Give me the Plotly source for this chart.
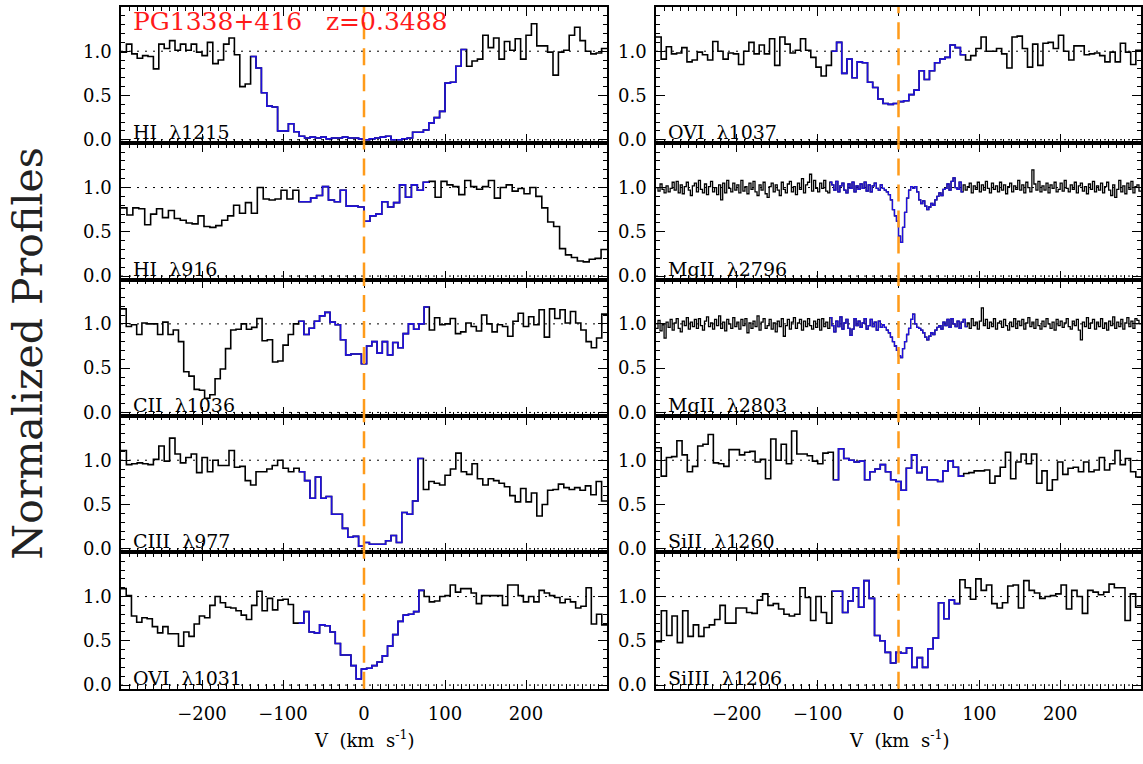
import numpy as np
import plotly.graph_objects as go

FONT = "DejaVu Serif"
INK = "#000000"
BLUE = "#2010dd"
ORANGE = "#ff9b1a"
RED = "#ff1a1a"

W, H = 1143, 764

# velocity span shared by every panel (km/s)
V_MIN, V_MAX = -300.0, 300.0

# ---------------------------------------------------------------------------
# Normalised flux of each transition, one value per pixel, pixels spread
# evenly across V_MIN..V_MAX
# ---------------------------------------------------------------------------
hi1215 = [
    0.99, 1.08, 0.97, 0.92, 0.95, 0.94, 0.80, 1.08, 1.03, 1.12,
    1.01, 1.08, 1.01, 1.08, 0.99, 0.95, 1.10, 0.86, 0.90, 1.08,
    1.15, 0.96, 0.60, 0.63, 0.94, 0.81, 0.53, 0.38, 0.37, 0.10,
    0.10, 0.18, 0.09, 0.04, 0.02, 0.03, 0.02, 0.03, 0.01, 0.02,
    0.02, 0.03, 0.02, 0.02, 0.01, 0.00, 0.01, 0.02, 0.03, 0.04,
    0.00, 0.00, 0.01, 0.02, 0.085, 0.085, 0.11, 0.19, 0.25, 0.32,
    0.64, 0.65, 0.83, 1.02, 0.83, 0.89, 0.91, 1.18, 1.04, 1.15,
    0.91, 1.11, 1.01, 1.14, 0.91, 1.18, 1.31, 1.06, 1.06, 0.99,
    0.73, 0.99, 1.01, 1.18, 1.27, 1.12, 1.00, 0.97, 0.98, 1.03,
]

hi916 = [
    0.77, 0.69, 0.77, 0.76, 0.58, 0.70, 0.76, 0.66, 0.74, 0.65,
    0.63, 0.60, 0.59, 0.68, 0.56, 0.55, 0.57, 0.63, 0.68, 0.80,
    0.71, 0.83, 0.71, 1.00, 0.87, 0.86, 0.87, 0.97, 0.87, 0.97,
    0.84, 0.84, 0.88, 0.91, 1.01, 0.86, 0.84, 0.97, 0.79, 0.79,
    0.78, 0.62, 0.68, 0.70, 0.84, 0.78, 0.83, 1.03, 0.89, 1.03,
    0.97, 1.06, 1.07, 0.89, 1.07, 1.03, 1.01, 0.92, 1.08, 1.01,
    0.98, 1.01, 1.08, 0.88, 1.00, 1.03, 0.96, 0.99, 0.93, 1.00,
    0.90, 0.77, 0.61, 0.56, 0.31, 0.24, 0.21, 0.17, 0.16, 0.19,
    0.20, 0.30,
]

cii1036 = [
    1.17, 0.97, 0.99, 0.88, 1.01, 1.00, 1.00, 0.88, 1.02, 0.88,
    0.93, 0.80, 0.46, 0.41, 0.26, 0.25, 0.16, 0.20, 0.38, 0.49,
    0.72, 0.93, 0.94, 1.00, 0.94, 0.96, 1.06, 0.81, 0.82, 0.57,
    0.58, 0.76, 0.88, 1.00, 1.03, 0.88, 0.95, 1.03, 1.09, 1.13,
    1.02, 0.99, 0.82, 0.65, 0.66, 0.66, 0.55, 0.75, 0.80, 0.67,
    0.80, 0.65, 0.79, 0.73, 0.89, 1.00, 0.94, 1.00, 1.19, 0.93,
    1.07, 0.99, 1.00, 1.06, 0.89, 0.91, 1.01, 0.97, 0.92, 1.10,
    1.00, 0.91, 0.99, 0.97, 0.86, 1.03, 1.12, 0.97, 1.08, 0.99,
    1.16, 0.85, 1.17, 1.06, 1.16, 1.01, 1.14, 1.01, 0.93, 0.80,
    0.73, 0.84, 1.11,
]

ciii977 = [
    1.11, 0.95, 0.96, 0.97, 0.96, 0.95, 1.01, 1.16, 0.99, 1.25,
    1.07, 0.97, 1.03, 1.07, 0.86, 1.03, 0.87, 1.00, 0.94, 0.94,
    1.11, 0.92, 0.93, 0.77, 0.72, 0.87, 0.87, 0.90, 0.94, 1.00,
    0.91, 0.87, 0.91, 0.87, 0.77, 0.57, 0.81, 0.57, 0.59, 0.39,
    0.39, 0.23, 0.13, 0.14, 0.03, 0.07, 0.05, 0.05, 0.05, 0.09,
    0.15, 0.07, 0.41, 0.39, 0.54, 1.02, 0.67, 0.76, 0.74, 0.72,
    0.83, 0.90, 1.08, 0.87, 0.84, 0.96, 0.79, 0.72, 0.79, 0.77,
    0.74, 0.70, 0.60, 0.53, 0.68, 0.53, 0.63, 0.37, 0.50, 0.66,
    0.67, 0.73, 0.69, 0.67, 0.69, 0.66, 0.71, 0.61, 0.76, 0.54,
]

ovi1031 = [
    1.09, 1.01, 0.78, 0.71, 0.76, 0.75, 0.66, 0.59, 0.66, 0.58,
    0.58, 0.44, 0.60, 0.55, 0.69, 0.78, 0.76, 0.90, 1.00, 0.93,
    0.88, 0.87, 0.84, 0.79, 0.74, 0.90, 1.06, 0.84, 0.98, 0.85,
    0.96, 0.97, 0.91, 0.70, 0.70, 0.83, 0.60, 0.59, 0.68, 0.67,
    0.60, 0.47, 0.34, 0.34, 0.22, 0.07, 0.18, 0.19, 0.22, 0.26,
    0.33, 0.44, 0.57, 0.72, 0.79, 0.80, 0.83, 1.07, 1.00, 0.94,
    0.95, 1.00, 1.01, 1.13, 1.05, 1.09, 1.09, 1.04, 0.92, 1.01,
    1.01, 1.01, 1.01, 0.90, 1.13, 1.13, 1.01, 0.94, 1.00, 0.94,
    1.07, 1.04, 1.01, 0.99, 0.93, 0.97, 0.94, 0.87, 0.89, 1.10,
    0.69, 0.80, 0.68,
]

ovi1037 = [
    1.16, 0.91, 1.05, 0.97, 0.98, 1.04, 0.88, 0.90, 0.99, 0.96,
    0.90, 1.11, 1.00, 0.91, 0.98, 0.97, 0.85, 1.00, 1.10, 0.97,
    1.07, 0.97, 1.14, 0.84, 1.16, 1.08, 0.98, 1.01, 1.14, 1.01,
    0.93, 0.82, 0.72, 0.84, 1.00, 1.10, 0.75, 0.91, 0.70, 0.88,
    0.87, 0.65, 0.59, 0.46, 0.41, 0.40, 0.41, 0.43, 0.44, 0.51,
    0.56, 0.78, 0.68, 0.78, 0.87, 0.91, 0.93, 1.07, 1.04, 0.96,
    0.90, 0.95, 1.03, 1.16, 1.00, 1.00, 1.03, 0.97, 0.81, 1.16,
    1.17, 1.03, 0.82, 1.08, 0.84, 1.09, 1.10, 1.03, 1.18, 1.00,
    0.90, 1.06, 1.06, 0.96, 0.97, 0.98, 0.95, 0.88, 0.99, 0.88,
    1.09, 0.99, 0.85, 1.01,
]

mgii2796 = [
    1.00, 0.96, 1.04, 0.98, 0.94, 1.02, 0.95, 0.99, 1.06, 0.97,
    1.07, 0.94, 1.03, 0.93, 1.01, 1.06, 0.97, 0.91, 1.02, 1.05,
    0.95, 1.08, 0.98, 0.94, 1.04, 0.92, 1.01, 1.07, 0.95, 1.00,
    0.92, 1.03, 0.86, 1.05, 0.94, 1.08, 0.99, 0.95, 1.05, 0.97,
    1.03, 0.94, 1.08, 0.96, 1.01, 0.93, 1.05, 0.98, 1.07, 0.95,
    0.91, 1.03, 0.97, 1.06, 0.93, 0.89, 1.01, 1.05, 0.95, 1.03,
    0.97, 0.91, 1.06, 0.98, 0.94, 1.04, 1.07, 0.95, 1.01, 0.92,
    1.05, 0.98, 1.10, 0.94, 1.03, 1.06, 1.15, 0.96, 1.08, 0.99,
    0.95, 1.05, 0.99, 1.08, 0.96, 0.94, 1.06, 1.03, 0.97, 1.07,
    0.95, 1.02, 1.05, 0.97, 0.94, 1.04, 0.99, 1.06, 0.95, 1.02,
    0.98, 1.04, 0.99, 1.06, 0.96, 1.03, 0.95, 1.02, 1.05, 0.99,
    0.97, 1.03, 0.99, 0.97, 0.95, 0.92, 0.86, 0.75, 0.68, 0.62,
    0.45, 0.38, 0.55, 0.72, 0.88, 0.97, 1.01, 0.99, 1.01, 0.95,
    0.86, 0.82, 0.85, 0.79, 0.75, 0.78, 0.82, 0.80, 0.86, 0.90,
    0.94, 0.91, 0.98, 0.99, 1.04, 0.97, 1.07, 1.11, 1.00, 0.98,
    1.06, 0.95, 1.03, 0.97, 1.01, 1.05, 0.94, 1.02, 0.98, 1.06,
    0.95, 1.03, 0.97, 1.07, 0.99, 0.94, 1.05, 0.98, 1.02, 0.95,
    1.06, 0.97, 1.03, 0.93, 1.01, 1.05, 0.95, 1.02, 0.98, 1.08,
    0.97, 1.03, 0.94, 1.06, 1.00, 0.95, 1.20, 1.04, 0.97, 1.07,
    0.95, 1.02, 0.97, 1.05, 0.94, 1.03, 0.99, 1.06, 0.95, 0.98,
    1.05, 0.96, 1.08, 0.99, 0.95, 1.03, 0.98, 1.06, 0.94, 1.02,
    1.05, 0.96, 1.01, 0.93, 1.04, 0.98, 1.07, 0.95, 1.02, 0.97,
    1.05, 0.94, 1.01, 1.06, 0.97, 0.91, 1.03, 0.89, 0.98, 1.08,
    0.95, 1.02, 0.93, 1.05, 0.98, 1.07, 0.94, 1.01, 1.03, 0.96,
]

mgii2803 = [
    0.95, 1.04, 0.92, 0.99, 0.84, 1.02, 0.96, 1.05, 0.93, 1.01,
    1.06, 0.95, 0.91, 1.03, 0.98, 1.07, 0.94, 1.02, 0.97, 1.05,
    0.95, 1.06, 0.98, 0.93, 1.03, 1.08, 0.97, 1.01, 0.94, 1.05,
    0.98, 1.09, 0.95, 1.02, 0.92, 1.05, 1.00, 0.95, 1.07, 0.97,
    1.02, 0.94, 1.05, 0.98, 1.06, 0.90, 1.01, 0.95, 1.03, 0.97,
    1.09, 0.93, 1.02, 1.06, 0.95, 0.98, 1.05, 0.94, 1.01, 0.91,
    1.03, 0.97, 1.06, 0.86, 0.98, 1.05, 0.94, 1.02, 1.07, 0.95,
    1.01, 1.05, 0.93, 1.03, 0.97, 1.06, 0.98, 0.94, 1.03, 0.96,
    1.05, 0.93, 1.06, 0.97, 1.02, 0.95, 1.07, 0.98, 0.91, 1.03,
    0.97, 1.08, 0.94, 1.01, 1.05, 0.95, 0.87, 0.94, 1.06, 0.98,
    1.03, 0.96, 1.01, 1.06, 0.94, 0.98, 1.05, 0.97, 1.02, 0.93,
    1.03, 0.96, 0.99, 0.96, 0.93, 0.90, 0.85, 0.80, 0.75, 0.70,
    0.64, 0.62, 0.72, 0.80, 0.88, 0.95, 1.05, 1.11, 1.00, 0.96,
    0.95, 0.93, 0.90, 0.85, 0.82, 0.86, 0.90, 0.88, 0.93, 0.96,
    0.98, 0.94, 1.02, 0.98, 1.05, 0.96, 1.06, 1.00, 0.97, 1.03,
    0.95, 1.02, 1.05, 0.97, 1.01, 0.95, 1.06, 0.98, 1.02, 0.94,
    1.03, 1.18, 0.98, 1.05, 0.95, 1.02, 0.97, 1.06, 0.94, 1.01,
    1.03, 0.96, 1.05, 0.98, 0.93, 1.02, 0.97, 1.06, 0.95, 1.03,
    0.98, 1.05, 0.94, 1.01, 1.07, 0.97, 1.02, 0.95, 1.05, 0.98,
    0.94, 1.03, 0.97, 1.06, 1.00, 0.95, 1.02, 0.93, 1.05, 0.98,
    1.03, 0.96, 1.01, 1.06, 0.97, 0.94, 1.03, 0.98, 1.05, 0.93,
    0.82, 1.02, 0.97, 1.07, 0.95, 1.01, 1.05, 0.94, 1.02, 0.97,
    1.06, 0.95, 1.01, 0.93, 1.03, 0.98, 1.08, 0.95, 1.02, 0.97,
    1.05, 0.94, 1.01, 1.07, 0.97, 1.03, 0.95, 1.06, 1.04, 1.00,
]

sii1260 = [
    1.14, 0.82, 1.03, 1.04, 1.22, 1.06, 0.87, 0.93, 1.16, 1.18,
    1.29, 0.97, 0.96, 0.93, 1.12, 1.12, 1.06, 1.09, 1.10, 0.98,
    1.01, 0.79, 1.24, 1.00, 1.18, 0.96, 1.33, 1.07, 1.07, 1.05,
    0.99, 0.96, 1.08, 1.09, 0.78, 1.13, 1.02, 1.00, 0.98, 0.99,
    0.78, 0.87, 0.90, 0.95, 0.87, 0.78, 0.76, 0.66, 0.91, 1.06,
    0.86, 0.92, 0.78, 0.78, 0.76, 0.88, 0.99, 0.92, 0.82, 0.85,
    0.86, 0.88, 0.88, 0.89, 0.74, 0.82, 0.92, 1.09, 0.79, 0.98,
    1.07, 0.96, 1.07, 0.74, 0.88, 0.66, 0.78, 0.98, 0.84, 0.91,
    0.92, 0.87, 0.98, 0.87, 0.89, 1.03, 0.89, 0.96, 1.11, 0.95,
    1.02, 0.87, 0.81,
]

siiii1206 = [
    0.49, 0.84, 0.56, 0.78, 0.48, 0.84, 0.55, 0.68, 0.55, 0.65,
    0.68, 0.74, 0.90, 0.70, 0.70, 0.87, 0.87, 0.82, 0.81, 0.96,
    1.03, 0.90, 0.92, 0.86, 0.80, 0.78, 0.80, 1.10, 0.99, 0.73,
    1.00, 0.82, 0.70, 1.06, 1.06, 0.82, 0.95, 1.10, 0.88, 1.18,
    0.98, 0.56, 0.50, 0.37, 0.25, 0.37, 0.36, 0.42, 0.20, 0.31,
    0.20, 0.41, 0.53, 0.93, 0.75, 0.96, 0.92, 1.19, 1.10, 0.97,
    1.20, 1.07, 1.13, 0.92, 0.87, 0.93, 1.12, 1.13, 0.87, 1.18,
    1.07, 1.04, 0.98, 1.00, 1.01, 1.03, 1.13, 0.86, 1.07, 1.00,
    0.81, 1.07, 1.05, 1.02, 1.05, 1.14, 1.10, 1.10, 0.73, 1.03,
    0.88,
]

# panel layout: (column, row, label, flux, integration window in km/s)
panels = [
    (0, 0, "HI\u00a0\u00a0λ1215", hi1215, (-141, 127)),
    (0, 1, "HI\u00a0\u00a0λ916", hi916, (-82, 78)),
    (0, 2, "CII\u00a0\u00a0λ1036", cii1036, (-82, 78)),
    (0, 3, "CIII\u00a0\u00a0λ977", ciii977, (-82, 76)),
    (0, 4, "OVI\u00a0\u00a0λ1031", ovi1031, (-78, 72)),
    (1, 0, "OVI\u00a0\u00a0λ1037", ovi1037, (-83, 80)),
    (1, 1, "MgII\u00a0\u00a0λ2796", mgii2796, (-85, 81)),
    (1, 2, "MgII\u00a0\u00a0λ2803", mgii2803, (-85, 84)),
    (1, 3, "SiII\u00a0\u00a0λ1260", sii1260, (-79, 80)),
    (1, 4, "SiIII\u00a0\u00a0λ1206", siiii1206, (-82, 75)),
]

X_TICKS = [-200, -100, 0, 100, 200]
Y_TICKS = [0.0, 0.5, 1.0]
Y_RANGE = [-0.04, 1.5]

# plot-area geometry in pixels
COL_X = [(121, 607), (656, 1141)]
TOP, ROW_H = 7.0, 137.6

fig = go.Figure()
layout = dict(
    width=W, height=H,
    margin=dict(l=0, r=0, t=0, b=0),
    paper_bgcolor="white", plot_bgcolor="white",
    showlegend=False,
    font=dict(family=FONT, color=INK, size=18),
)
shapes, annotations = [], []

for k, (col, row, label, flux, (w_lo, w_hi)) in enumerate(panels, start=1):
    xa = "x" if k == 1 else f"x{k}"
    ya = "y" if k == 1 else f"y{k}"
    xkey = "xaxis" if k == 1 else f"xaxis{k}"
    ykey = "yaxis" if k == 1 else f"yaxis{k}"

    x0, x1 = COL_X[col]
    top = TOP + row * ROW_H
    bot = top + ROW_H

    common = dict(
        showline=True, linecolor=INK, linewidth=1.6, mirror="allticks",
        ticks="inside", tickcolor=INK, tickwidth=1,
        showgrid=False, zeroline=False,
        tickfont=dict(family=FONT, size=18, color=INK),
    )
    layout[xkey] = dict(
        common, domain=[x0 / W, x1 / W], range=[V_MIN, V_MAX], anchor=ya,
        tickmode="array", tickvals=X_TICKS, ticklen=9,
        minor=dict(tickmode="linear", tick0=0, dtick=10, ticks="inside",
                   ticklen=4.5, tickcolor=INK, tickwidth=1),
        showticklabels=(row == 4), ticklabelstandoff=8,
    )
    layout[ykey] = dict(
        common, domain=[1 - bot / H, 1 - top / H], range=Y_RANGE, anchor=xa,
        tickmode="array", tickvals=Y_TICKS, tickformat=".1f", ticklen=9,
        minor=dict(tickmode="linear", tick0=0, dtick=0.1, ticks="inside",
                   ticklen=4.5, tickcolor=INK, tickwidth=1),
        ticklabelstandoff=4,
    )

    n = len(flux)
    edges = np.linspace(V_MIN, V_MAX, n + 1)
    centres = 0.5 * (edges[:-1] + edges[1:])
    lw = 1.3 if "Mg" in label else 1.6

    # full profile as a histogram-style step line
    fig.add_trace(go.Scatter(
        x=edges, y=list(flux) + [flux[-1]], xaxis=xa, yaxis=ya,
        mode="lines", line=dict(color=INK, width=lw, shape="hv"),
        hoverinfo="skip",
    ))

    # integration window redrawn in blue
    inside = np.where((centres >= w_lo) & (centres <= w_hi))[0]
    a, b = inside[0], inside[-1]
    fig.add_trace(go.Scatter(
        x=edges[a:b + 2], y=list(flux[a:b + 1]) + [flux[b]], xaxis=xa, yaxis=ya,
        mode="lines", line=dict(color=BLUE, width=lw, shape="hv"),
        hoverinfo="skip",
    ))

    # dotted continuum and zero levels
    for lvl in (1.0, 0.0):
        shapes.append(dict(
            type="line", xref=f"{xa} domain", yref=ya, x0=0, x1=1, y0=lvl, y1=lvl,
            line=dict(color=INK, width=1, dash="2px,6px"), layer="below",
        ))
    # systemic velocity marker
    shapes.append(dict(
        type="line", xref=xa, yref=f"{ya} domain", x0=0, x1=0, y0=0, y1=1,
        line=dict(color=ORANGE, width=2.5, dash="17px,9px"), layer="above",
    ))

    annotations.append(dict(
        text=label, xref=f"{xa} domain", yref=f"{ya} domain",
        x=0.0, y=0.0, xanchor="left", yanchor="bottom", xshift=10, yshift=-2,
        showarrow=False, font=dict(family=FONT, size=19, color=INK),
    ))

# object name and redshift
annotations.append(dict(
    text="PG1338+416\u00a0\u00a0\u00a0z=0.3488", xref="x domain", yref="paper",
    x=0.0, y=1 - 22 / H, xanchor="left", yanchor="middle", xshift=10,
    showarrow=False, font=dict(family=FONT, size=25, color=RED),
))

# shared axis titles
annotations.append(dict(
    text="Normalized Profiles", xref="paper", yref="paper",
    x=28 / W, y=1 - 357 / H, xanchor="center", yanchor="middle", textangle=-90,
    showarrow=False, font=dict(family=FONT, size=41, color="#222222"),
))
for (x0, x1) in COL_X:
    annotations.append(dict(
        text="V\u00a0\u00a0(km\u00a0\u00a0s<sup>-1</sup>)", xref="paper", yref="paper",
        x=0.5 * (x0 + x1) / W, y=1 - 746 / H, xanchor="center", yanchor="middle",
        showarrow=False, font=dict(family=FONT, size=18, color=INK),
    ))

layout["shapes"] = shapes
layout["annotations"] = annotations
fig.update_layout(**layout)

fig.write_html("out.html")
